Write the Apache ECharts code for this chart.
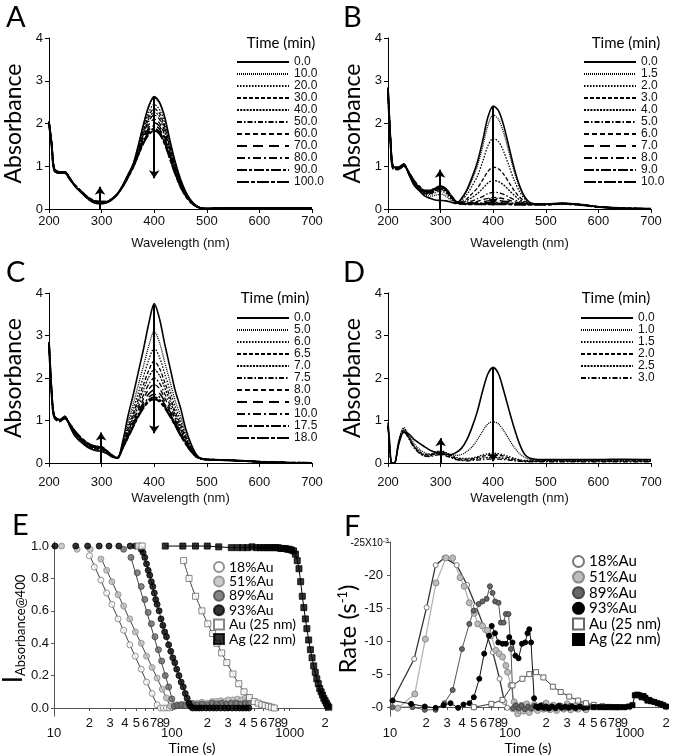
<!DOCTYPE html>
<html><head><meta charset="utf-8">
<script src="https://cdn.jsdelivr.net/npm/echarts@6/dist/echarts.min.js"></script>
<style>html,body{margin:0;padding:0;background:#fff}#c{width:673px;height:756px}</style>
</head><body><div id="c"></div>
<script>
// ---------- Panel A ----------
const wlA = [200,205,210,220,230,240,250,260,270,280,290,300,310,320,330,340,350,360,370,380,390,400,410,420,430,440,450,460,470,480,490,500,550,600,650,700];
const timesA = ['0.0','10.0','20.0','30.0','40.0','50.0','60.0','70.0','80.0','90.0','100.0'];
const A00 = [2.05,1.55,0.95,0.87,0.87,0.72,0.52,0.4,0.28,0.18,0.13,0.12,0.15,0.22,0.35,0.55,0.8,1.05,1.5,2.0,2.42,2.63,2.5,2.15,1.6,1.1,0.7,0.4,0.2,0.08,0.02,0.01,0.02,0.02,0.02,0.02];
const A10 = [2.05,1.55,0.95,0.87,0.87,0.72,0.52,0.4,0.28,0.18,0.13,0.13,0.15,0.22,0.35,0.55,0.80,1.05,1.49,1.98,2.39,2.60,2.47,2.12,1.58,1.09,0.69,0.40,0.20,0.08,0.02,0.01,0.02,0.02,0.02,0.02];
const A20 = [2.04,1.54,0.94,0.86,0.87,0.72,0.53,0.4,0.28,0.19,0.14,0.13,0.15,0.22,0.35,0.54,0.79,1.03,1.45,1.90,2.27,2.45,2.33,2.01,1.50,1.04,0.66,0.38,0.19,0.08,0.02,0.01,0.02,0.02,0.02,0.02];
const A30 = [2.04,1.54,0.94,0.86,0.86,0.71,0.53,0.41,0.29,0.19,0.14,0.14,0.16,0.23,0.35,0.54,0.78,1.03,1.42,1.84,2.19,2.35,2.24,1.93,1.45,1.00,0.64,0.37,0.18,0.07,0.02,0.01,0.02,0.02,0.02,0.02];
const A40 = [2.03,1.53,0.93,0.86,0.86,0.71,0.53,0.41,0.29,0.2,0.15,0.14,0.16,0.23,0.35,0.54,0.77,1.02,1.40,1.80,2.12,2.27,2.17,1.87,1.41,0.97,0.62,0.36,0.18,0.07,0.02,0.01,0.02,0.02,0.02,0.02];
const A50 = [2.03,1.53,0.93,0.85,0.86,0.7,0.53,0.41,0.29,0.2,0.15,0.15,0.16,0.23,0.35,0.53,0.77,1.01,1.38,1.76,2.06,2.20,2.10,1.81,1.37,0.95,0.60,0.35,0.17,0.07,0.02,0.01,0.02,0.02,0.02,0.02];
const A60 = [2.02,1.52,0.92,0.85,0.85,0.7,0.54,0.42,0.3,0.21,0.16,0.15,0.16,0.23,0.35,0.53,0.76,1.00,1.35,1.70,1.98,2.10,2.01,1.73,1.32,0.92,0.58,0.33,0.17,0.07,0.02,0.01,0.02,0.02,0.02,0.02];
const A70 = [2.02,1.52,0.92,0.85,0.85,0.7,0.54,0.42,0.3,0.21,0.16,0.16,0.17,0.24,0.35,0.53,0.75,1.00,1.33,1.66,1.91,2.02,1.94,1.67,1.27,0.89,0.56,0.32,0.16,0.06,0.02,0.01,0.02,0.02,0.02,0.02];
const A80 = [2.01,1.51,0.91,0.84,0.85,0.69,0.54,0.42,0.3,0.22,0.17,0.16,0.17,0.24,0.35,0.52,0.75,0.99,1.30,1.62,1.85,1.95,1.87,1.61,1.23,0.86,0.55,0.32,0.16,0.06,0.02,0.01,0.02,0.02,0.02,0.02];
const A90 = [2.01,1.51,0.91,0.84,0.84,0.69,0.54,0.43,0.31,0.22,0.17,0.17,0.17,0.24,0.35,0.52,0.74,0.98,1.28,1.58,1.79,1.88,1.80,1.56,1.20,0.84,0.53,0.31,0.15,0.06,0.02,0.01,0.02,0.02,0.02,0.02];
const A100 = [2.0,1.5,0.9,0.84,0.84,0.69,0.55,0.43,0.31,0.23,0.18,0.17,0.17,0.24,0.35,0.52,0.74,0.98,1.27,1.55,1.75,1.83,1.76,1.52,1.17,0.82,0.52,0.30,0.15,0.06,0.02,0.01,0.02,0.02,0.02,0.02];
const arrowsA = [[297,0,297,0.52],[400,2.62,400,0.72]];

// ---------- Panel B ----------
const wlB = [200,205,210,220,230,240,250,260,270,280,290,300,310,320,330,340,350,360,370,380,390,400,410,420,430,440,450,460,470,480,490,500,530,560,600,650,700];
const timesB = ['0.0','1.5','2.0','3.0','4.0','5.0','6.0','7.0','8.0','9.0','10.0'];
const B00 = [2.85,1.6,1.0,0.98,1.06,0.8,0.55,0.42,0.3,0.25,0.21,0.2,0.19,0.16,0.13,0.25,0.45,0.75,1.1,1.6,2.15,2.41,2.3,1.95,1.45,0.95,0.55,0.28,0.15,0.12,0.11,0.11,0.13,0.11,0.05,0.015,0.005];
const B15 = [2.83,1.58,0.99,0.97,1.05,0.8,0.56,0.43,0.33,0.3,0.32,0.35,0.3,0.2,0.14,0.24,0.42,0.69,1.01,1.46,1.96,2.20,2.10,1.78,1.33,0.87,0.51,0.27,0.15,0.12,0.12,0.11,0.13,0.11,0.05,0.015,0.005];
const B20 = [2.82,1.57,0.98,0.97,1.05,0.81,0.57,0.44,0.35,0.34,0.38,0.42,0.36,0.23,0.15,0.21,0.34,0.54,0.77,1.11,1.48,1.65,1.58,1.34,1.01,0.67,0.41,0.23,0.14,0.12,0.12,0.11,0.13,0.11,0.05,0.015,0.005];
const B30 = [2.8,1.56,0.98,0.96,1.04,0.81,0.58,0.45,0.36,0.36,0.42,0.46,0.4,0.26,0.16,0.17,0.24,0.36,0.49,0.68,0.88,0.98,0.94,0.81,0.62,0.43,0.28,0.18,0.13,0.12,0.11,0.11,0.13,0.11,0.05,0.015,0.005];
const B40 = [2.8,1.55,0.97,0.96,1.04,0.82,0.59,0.46,0.37,0.37,0.44,0.48,0.42,0.27,0.16,0.15,0.2,0.27,0.36,0.48,0.61,0.67,0.64,0.56,0.44,0.32,0.22,0.16,0.13,0.12,0.11,0.11,0.13,0.11,0.05,0.015,0.005];
const B50 = [2.79,1.55,0.97,0.95,1.03,0.82,0.6,0.47,0.38,0.38,0.45,0.5,0.44,0.28,0.16,0.14,0.16,0.19,0.24,0.29,0.36,0.39,0.38,0.34,0.28,0.22,0.17,0.14,0.12,0.12,0.11,0.11,0.13,0.11,0.05,0.015,0.005];
const B60 = [2.78,1.54,0.96,0.95,1.03,0.83,0.61,0.48,0.39,0.39,0.46,0.51,0.45,0.29,0.16,0.13,0.14,0.16,0.18,0.22,0.25,0.27,0.26,0.24,0.21,0.17,0.15,0.13,0.12,0.11,0.11,0.11,0.13,0.11,0.05,0.015,0.005];
const B70 = [2.78,1.54,0.96,0.94,1.02,0.83,0.62,0.49,0.4,0.4,0.47,0.52,0.46,0.3,0.16,0.12,0.13,0.14,0.15,0.17,0.19,0.2,0.2,0.18,0.17,0.15,0.13,0.12,0.12,0.11,0.11,0.11,0.13,0.11,0.05,0.015,0.005];
const B80 = [2.77,1.53,0.95,0.94,1.02,0.84,0.63,0.5,0.41,0.41,0.48,0.52,0.46,0.3,0.16,0.12,0.12,0.13,0.13,0.14,0.15,0.15,0.15,0.14,0.14,0.13,0.12,0.12,0.11,0.11,0.11,0.11,0.13,0.11,0.05,0.015,0.005];
const B90 = [2.76,1.53,0.95,0.93,1.01,0.84,0.64,0.51,0.42,0.42,0.48,0.53,0.47,0.31,0.16,0.13,0.12,0.12,0.12,0.12,0.13,0.13,0.13,0.12,0.12,0.12,0.12,0.11,0.11,0.11,0.11,0.11,0.13,0.11,0.05,0.015,0.005];
const B100 = [2.75,1.52,0.94,0.93,1.01,0.85,0.65,0.52,0.43,0.43,0.49,0.53,0.47,0.31,0.16,0.12,0.11,0.11,0.11,0.11,0.11,0.11,0.11,0.11,0.11,0.1,0.1,0.1,0.1,0.1,0.1,0.1,0.12,0.1,0.05,0.015,0.005];
const arrowsB = [[299,0,299,0.92],[400,2.41,400,0.08]];

// ---------- Panel C ----------
const wlC = [200,205,210,220,230,240,250,260,270,280,290,300,310,320,330,340,350,360,370,380,390,400,410,420,430,440,450,460,470,480,490,500,550,600,650,700];
const timesC = ['0.0','5.0','6.0','6.5','7.0','7.5','8.0','9.0','10.0','17.5','18.0'];
const C00 = [2.85,1.7,1.12,1.02,1.1,0.85,0.62,0.5,0.4,0.33,0.29,0.27,0.22,0.14,0.12,0.5,1.1,1.6,2.15,2.7,3.3,3.75,3.4,2.8,2.25,1.7,1.3,0.8,0.45,0.2,0.1,0.09,0.06,0.03,0.01,0.0];
const C50 = [2.84,1.69,1.12,1.02,1.1,0.86,0.64,0.52,0.42,0.35,0.31,0.29,0.23,0.15,0.12,0.46,0.96,1.38,1.85,2.30,2.77,3.10,2.84,2.37,1.92,1.46,1.11,0.70,0.40,0.19,0.10,0.09,0.06,0.03,0.01,0.0];
const C60 = [2.84,1.69,1.11,1.01,1.09,0.87,0.66,0.53,0.43,0.36,0.32,0.31,0.24,0.15,0.12,0.43,0.87,1.25,1.66,2.05,2.44,2.70,2.49,2.10,1.71,1.32,1.00,0.64,0.37,0.18,0.10,0.09,0.06,0.03,0.01,0.0];
const C65 = [2.83,1.68,1.11,1.01,1.09,0.88,0.67,0.54,0.44,0.37,0.33,0.32,0.25,0.16,0.12,0.41,0.80,1.15,1.52,1.86,2.19,2.40,2.23,1.90,1.56,1.21,0.91,0.59,0.35,0.17,0.10,0.08,0.06,0.03,0.01,0.0];
const C70 = [2.83,1.68,1.1,1.0,1.08,0.88,0.68,0.55,0.45,0.38,0.34,0.33,0.25,0.16,0.12,0.40,0.76,1.08,1.43,1.74,2.03,2.20,2.06,1.77,1.46,1.14,0.85,0.56,0.33,0.17,0.10,0.08,0.06,0.03,0.01,0.0];
const C75 = [2.82,1.67,1.1,1.0,1.08,0.89,0.69,0.56,0.46,0.39,0.35,0.34,0.26,0.17,0.12,0.38,0.71,1.02,1.33,1.61,1.86,2.00,1.88,1.63,1.36,1.06,0.79,0.53,0.32,0.16,0.10,0.08,0.06,0.03,0.01,0.0];
const C80 = [2.82,1.67,1.09,1.0,1.07,0.89,0.7,0.57,0.47,0.4,0.36,0.35,0.26,0.17,0.12,0.37,0.68,0.97,1.26,1.52,1.74,1.85,1.75,1.53,1.28,1.01,0.75,0.50,0.31,0.16,0.10,0.08,0.06,0.03,0.01,0.0];
const C90 = [2.81,1.66,1.09,0.99,1.07,0.9,0.71,0.58,0.48,0.41,0.37,0.36,0.27,0.17,0.12,0.36,0.65,0.92,1.20,1.44,1.63,1.72,1.64,1.45,1.21,0.96,0.71,0.48,0.30,0.15,0.10,0.08,0.06,0.03,0.01,0.0];
const C100 = [2.81,1.66,1.08,0.99,1.06,0.9,0.72,0.59,0.48,0.41,0.38,0.37,0.27,0.18,0.12,0.36,0.63,0.89,1.16,1.37,1.55,1.62,1.55,1.38,1.16,0.92,0.68,0.47,0.29,0.15,0.10,0.08,0.06,0.03,0.01,0.0];
const C175 = [2.8,1.65,1.08,0.98,1.06,0.91,0.73,0.6,0.49,0.42,0.38,0.37,0.28,0.18,0.12,0.35,0.61,0.87,1.12,1.33,1.49,1.55,1.49,1.33,1.13,0.90,0.66,0.46,0.28,0.15,0.10,0.08,0.06,0.03,0.01,0.0];
const C180 = [2.8,1.65,1.07,0.98,1.05,0.91,0.74,0.6,0.5,0.42,0.39,0.38,0.28,0.18,0.12,0.35,0.6,0.85,1.1,1.3,1.45,1.5,1.45,1.3,1.1,0.88,0.65,0.45,0.28,0.15,0.1,0.08,0.06,0.03,0.01,0.0];
const arrowsC = [[299,0,299,0.72],[400,3.72,400,0.7]];

// ---------- Panel D ----------
const wlD = [200,203,206,210,214,220,230,240,250,260,270,280,290,300,310,320,330,340,350,360,370,380,390,400,410,420,430,440,450,460,470,480,490,500,550,600,650,700];
const timesD = ['0.0','1.0','1.5','2.0','2.5','3.0'];
const D00 = [0.95,0.5,0.03,0.0,0.03,0.42,0.72,0.68,0.55,0.46,0.38,0.3,0.25,0.22,0.2,0.2,0.25,0.35,0.55,0.85,1.22,1.7,2.1,2.25,2.1,1.7,1.25,0.82,0.45,0.2,0.11,0.09,0.08,0.08,0.08,0.08,0.09,0.08];
const D10 = [0.9,0.45,0.02,0.0,0.03,0.5,0.83,0.66,0.45,0.32,0.24,0.21,0.22,0.24,0.22,0.19,0.18,0.2,0.27,0.38,0.55,0.75,0.92,0.97,0.92,0.76,0.56,0.37,0.22,0.13,0.09,0.08,0.08,0.08,0.08,0.08,0.08,0.08];
const D15 = [0.88,0.42,0.02,0.0,0.03,0.48,0.81,0.62,0.4,0.28,0.2,0.2,0.26,0.29,0.25,0.18,0.13,0.11,0.11,0.12,0.15,0.19,0.22,0.23,0.22,0.19,0.15,0.11,0.08,0.06,0.06,0.06,0.06,0.06,0.06,0.06,0.06,0.06];
const D20 = [0.88,0.4,0.02,0.0,0.03,0.46,0.78,0.6,0.38,0.26,0.19,0.19,0.24,0.27,0.23,0.16,0.11,0.09,0.09,0.1,0.13,0.16,0.18,0.19,0.18,0.16,0.12,0.09,0.07,0.05,0.05,0.05,0.05,0.05,0.05,0.05,0.05,0.05];
const D25 = [0.86,0.4,0.02,0.0,0.03,0.45,0.76,0.58,0.36,0.24,0.17,0.17,0.21,0.24,0.2,0.14,0.09,0.07,0.07,0.08,0.1,0.12,0.13,0.13,0.13,0.11,0.09,0.07,0.05,0.04,0.04,0.04,0.04,0.04,0.04,0.04,0.04,0.04];
const D30 = [0.85,0.38,0.02,0.0,0.03,0.44,0.74,0.56,0.35,0.23,0.16,0.15,0.18,0.2,0.17,0.12,0.08,0.06,0.05,0.06,0.07,0.08,0.09,0.09,0.09,0.08,0.07,0.05,0.04,0.03,0.03,0.03,0.03,0.03,0.03,0.03,0.03,0.03];
const arrowsD = [[300,0,300,0.58],[400,2.25,400,0.04]];

// ---------- Panel E (time s, normalized absorbance) ----------
const seriesNames = ['18%Au','51%Au','89%Au','93%Au','Au (25 nm)','Ag (22 nm)'];
const E18 = [[20,0.94],[22,0.87],[25,0.79],[28,0.71],[31,0.64],[35,0.55],[39,0.48],[44,0.39],[49,0.32],[55,0.24],[61,0.16],[68,0.09],[75,0.02],[80,0.0],[85,0.0],[90,0.0],[95,0.0],[100,0.005]];
const E18fit = [[20,0.945],[77,0]];
const E51 = [[11.6,1.0],[15.7,0.98],[20.3,0.98],[25,0.92],[28,0.85],[31,0.78],[35,0.7],[39,0.63],[44,0.55],[49,0.47],[55,0.4],[61,0.32],[68,0.25],[75,0.185],[83,0.116],[90,0.062],[97,0.012],[105,0.015],[110,0.02],[120,0.02],[130,0.025],[140,0.02],[150,0.03],[165,0.03],[180,0.035],[200,0.03],[220,0.04],[240,0.04],[260,0.045],[280,0.04],[300,0.05],[330,0.05],[360,0.055],[390,0.05],[420,0.06],[450,0.06]];
const E51fit = [[24.9,0.93],[98.6,0]];
const E89 = [[39,0.98],[45,0.93],[51,0.835],[55,0.75],[59,0.67],[63,0.59],[67,0.52],[72,0.44],[77,0.36],[82,0.29],[88,0.2],[94,0.13],[100,0.056],[105,0.01],[112,0.015],[120,0.02],[130,0.015],[140,0.02],[150,0.025],[165,0.02],[180,0.025],[200,0.02],[220,0.03],[240,0.025],[265,0.03],[290,0.025],[320,0.03],[350,0.03],[385,0.025],[420,0.03],[450,0.03]];
const E89fit = [[45,0.93],[106,0]];
const E93 = [[10.2,1.0],[15.3,1.0],[19.3,1.0],[24.2,1.0],[29.3,1.0],[35.5,1.0],[44.3,1.0],[49,1.0],[55,0.98],[57,0.96],[59,0.93],[61,0.89],[63,0.85],[65,0.82],[67,0.78],[69,0.75],[71,0.71],[73,0.67],[75,0.64],[78,0.6],[81,0.55],[84,0.51],[87,0.47],[90,0.44],[94,0.39],[98,0.35],[102,0.31],[106,0.28],[110,0.24],[115,0.2],[120,0.16],[125,0.13],[130,0.09],[135,0.06],[140,0.03],[145,0.01],[150,0.0],[160,0.0],[170,0.0],[180,0.0],[195,0.0],[210,0.0],[225,0.0],[240,0.0],[260,0.0],[280,0.0],[300,0.0],[325,0.0],[350,0.0],[375,0.0],[400,0.0],[425,0.0],[450,0.0]];
const EAu = [[52,1.0],[56,1.0],[126,0.91],[140,0.8],[159,0.69],[180,0.6],[202,0.52],[222,0.46],[242,0.4],[265,0.34],[293,0.28],[330,0.21],[370,0.15],[410,0.1],[456,0.065],[500,0.04],[540,0.03],[580,0.02],[620,0.015],[660,0.01],[700,0.005],[740,0.0]];
const EAg = [[88,1.0],[124,1.0],[159,1.0],[200,1.0],[250,0.995],[320,0.99],[360,0.99],[400,0.99],[440,0.99],[480,0.995],[520,0.99],[560,0.99],[600,0.99],[640,0.99],[680,0.99],[720,0.99],[760,0.99],[800,0.99],[840,0.985],[880,0.985],[920,0.985],[960,0.98],[1000,0.98],[1040,0.975],[1080,0.97],[1120,0.95],[1160,0.91],[1200,0.86],[1240,0.78],[1280,0.69],[1320,0.62],[1360,0.55],[1400,0.49],[1450,0.42],[1500,0.36],[1550,0.31],[1600,0.26],[1650,0.22],[1700,0.18],[1750,0.15],[1800,0.12],[1850,0.1],[1900,0.08],[1950,0.06],[2000,0.045],[2050,0.03],[2100,0.015],[2150,0.005]];
const logTicks = [10,20,30,40,50,60,70,80,90,100,200,300,400,500,600,700,800,900,1000,2000];
const eTicks = [0,0.2,0.4,0.6,0.8,1.0];

// ---------- Panel F (rate, x10^-3 s^-1) ----------
const F18 = [[10.5,-1.0],[15.9,-7.3],[20.2,-15.1],[24,-21.5],[28.5,-22.6],[36,-21.5],[44,-18.5],[52,-15.3],[62,-11.7],[72,-8.3],[82,-4.3],[90,-0.8],[95,0.1],[105,0.3],[115,0.5]];
const F51 = [[11.6,0.15],[16.1,-2.0],[19.7,-10.3],[24.2,-18.8],[29.3,-22.6],[33.3,-22.6],[38.4,-19.6],[41.6,-18.3],[45.8,-15.8],[50.4,-14.2],[53.9,-12.6],[59,-12.3],[65,-11.6],[69.6,-10.8],[76.3,-8.6],[81.3,-8.1],[86.7,-7.6],[92.5,-6.3],[95.5,-5.3],[101.8,-3.3],[108.5,-0.8],[116,1.0],[120,0.5],[125,-0.3],[130,0.6],[138,-0.5],[145,0.8],[152,0.2],[160,-0.4],[170,0.5],[180,-0.2],[190,0.3],[200,-0.6],[215,0.4],[230,-0.3],[245,0.5],[260,-0.2],[280,0.3],[300,-0.5],[320,0.4],[345,-0.2],[370,0.3],[400,-0.3],[430,0.4],[450,0.0]];
const F89 = [[10.5,0.0],[15.4,0.0],[19.5,0.4],[24,0.4],[28.4,-0.6],[33.3,-2.6],[39.8,-8.8],[45.8,-12.6],[49.8,-14.6],[54.8,-15.6],[59,-16.0],[63.9,-16.4],[68.1,-18.3],[71.6,-17.3],[75.3,-16.0],[80.3,-15.8],[84,-12.8],[88.6,-12.8],[92.5,-14.1],[97.3,-14.1],[101.9,-8.8],[106.5,0.15],[112,-0.3],[118,0.2],[125,-0.2],[133,0.3],[142,-0.1],[150,0.2],[160,-0.2],[172,0.1],[185,-0.3],[200,0.2],[220,-0.1],[240,0.2],[265,-0.2],[290,0.1],[320,-0.2],[350,0.2],[385,-0.1],[420,0.1],[450,0.0]];
const F93 = [[10.5,-1.0],[15,-0.5],[19.5,-0.1],[24,0.1],[28,-0.3],[32,-0.6],[37,0.1],[41,-0.4],[46,-0.6],[50,-1.5],[55.5,-4.3],[61,-8.1],[67,-10.8],[70.5,-12.3],[75,-11.2],[80,-9.8],[86.7,-9.6],[92.5,-9.6],[98.7,-10.6],[105,-9.8],[111,-7.8],[118,-7.4],[126,-9.6],[134,-9.8],[140,-11.2],[145,-11.8],[150,-9.8],[159,-1.35],[165,-0.1],[172,0.1],[180,-0.2],[190,0.1],[200,-0.1],[212,0.2],[225,-0.1],[240,0.1],[255,-0.2],[270,0.1],[290,-0.1],[310,0.1],[330,-0.1],[355,0.1],[380,-0.1],[410,0.1],[440,0.0]];
const FAu = [[50,0.0],[70,-0.5],[86.7,-1.1],[105,-3.3],[127,-4.3],[145,-5.0],[165,-5.3],[190,-4.5],[228,-3.1],[265,-2.3],[312,-1.6],[370,-1.0],[430,-0.6],[500,-0.35],[590,-0.15],[670,-0.05],[760,0.0]];
const FAg = [[500,0.0],[560,0.0],[620,0.0],[680,0.0],[750,0.0],[820,0.0],[900,0.0],[980,-0.1],[1050,-0.3],[1100,-1.8],[1150,-1.9],[1200,-1.8],[1250,-1.5],[1300,-1.7],[1350,-1.4],[1400,-1.0],[1450,-1.1],[1500,-0.9],[1600,-0.8],[1700,-0.6],[1800,-0.5],[1900,-0.3],[2000,-0.1]];
const fTicks = [-25,-20,-15,-10,-5,0];

// ---------- styles ----------
const dashes = [
  {t:'solid', w:1.6},{t:[1,1], w:1.3},{t:[1.5,1.5], w:1.3},{t:[4,2], w:1.3},{t:[2,1.2], w:1.3},
  {t:[5,2,1.5,2], w:1.3},{t:[5,3], w:1.3},{t:[10,6], w:1.5},{t:[8,3,2,3], w:1.5},{t:[10,2,3,2], w:2},{t:[12,2,4,2], w:2}
];
const TXT = '#111';
const tickFont = 'Liberation Sans';

function specSeries(p, gi, wl, curves, labels, arrows) {
  return curves.map((c, i) => {
    const s = {type:'line', name:p+'|'+labels[i], xAxisIndex:gi, yAxisIndex:gi,
      data: wl.map((w, j) => [w, c[j]]), symbol:'none', smooth:0.3, silent:true,
      lineStyle:{color:'#000', width:dashes[i].w, type:dashes[i].t}};
    if (i === 0) s.markLine = {silent:true, symbol:['none','arrow'], symbolSize:8,
      lineStyle:{color:'#000', width:2, type:'solid'}, label:{show:false},
      data: arrows.map(a => [{coord:[a[0],a[1]]},{coord:[a[2],a[3]]}])};
    return s;
  });
}
function specX(gi, row) {
  return {type:'value', gridIndex:gi, min:200, max:700, interval:100,
    name:'Wavelength (nm)', nameLocation:'middle', nameGap: row ? 29 : 28,
    nameTextStyle:{fontSize:13, fontFamily:tickFont, color:TXT},
    axisLine:{lineStyle:{color:'#000', width:1}}, axisTick:{length:4, lineStyle:{color:'#000'}},
    axisLabel:{fontSize:13, margin: row ? 13 : 6, color:TXT, fontFamily:tickFont}, splitLine:{show:false}};
}
function specY(gi) {
  return {type:'value', gridIndex:gi, min:0, max:4, interval:1,
    name:'Absorbance', nameLocation:'middle', nameGap:24,
    nameTextStyle:{fontSize:23, fontFamily:'Lato', color:'#000'},
    axisLine:{show:true, lineStyle:{color:'#000', width:1}}, axisTick:{show:true, length:4, lineStyle:{color:'#000'}},
    axisLabel:{fontSize:13, margin:6, color:TXT, fontFamily:tickFont}, splitLine:{show:false}};
}
function specLegend(p, left, top, labels) {
  return {left, top, orient:'vertical', padding:0, itemGap:0, itemWidth:52, itemHeight:10,
    selectedMode:false, data: labels.map(l => p+'|'+l), formatter: n => n.slice(2),
    textStyle:{fontSize:12, lineHeight:12, color:TXT, fontFamily:tickFont}, itemStyle:{opacity:0}};
}
function logX(gi, max) {
  return {type:'log', logBase:10, gridIndex:gi, min:10, max:max,
    name:'Time (s)', nameLocation:'middle', nameGap:21,
    nameTextStyle:{fontSize:14, fontFamily:'Lato', color:'#000'},
    axisLine:{lineStyle:{color:'#555', width:1}},
    axisTick:{customValues:logTicks, length:3, lineStyle:{color:'#555'}},
    axisLabel:{customValues:logTicks, margin:1, color:TXT, fontFamily:tickFont, fontSize:13,
      formatter: v => { const r = Math.round(v); return [10,100,1000].includes(r) ? '{d|'+r+'}' : '{m|'+String(r)[0]+'}'; },
      rich:{d:{fontSize:13, fontFamily:tickFont, color:TXT, padding:[10,0,0,0]}, m:{fontSize:13, fontFamily:tickFont, color:TXT}}},
    splitLine:{show:false}};
}

const marker = {
  '18%Au': {symbol:'circle', fill:'#fff', border:'#777'},
  '51%Au': {symbol:'circle', fill:'#bdbdbd', border:'#8a8a8a'},
  '89%Au': {symbol:'circle', fill:'#676767', border:'#444'},
  '93%Au': {symbol:'circle', fill:'#000', border:'#000'},
  'Au (25 nm)': {symbol:'rect', fill:'#fff', border:'#666'},
  'Ag (22 nm)': {symbol:'rect', fill:'#000', border:'#000'}
};
const eData = {'18%Au':E18, '51%Au':E51, '89%Au':E89, '93%Au':E93, 'Au (25 nm)':EAu, 'Ag (22 nm)':EAg};
const fData = {'18%Au':F18, '51%Au':F51, '89%Au':F89, '93%Au':F93, 'Au (25 nm)':FAu, 'Ag (22 nm)':FAg};
const fLine = {'18%Au':['#333',1.3], '51%Au':['#b4b4b4',1.3], '89%Au':['#555',1], '93%Au':['#111',1], 'Au (25 nm)':['#333',1], 'Ag (22 nm)':['#000',1]};

const series = [].concat(
  specSeries('A', 0, wlA, [A00,A10,A20,A30,A40,A50,A60,A70,A80,A90,A100], timesA, arrowsA),
  specSeries('B', 1, wlB, [B00,B15,B20,B30,B40,B50,B60,B70,B80,B90,B100], timesB, arrowsB),
  specSeries('C', 2, wlC, [C00,C50,C60,C65,C70,C75,C80,C90,C100,C175,C180], timesC, arrowsC),
  specSeries('D', 3, wlD, [D00,D10,D15,D20,D25,D30], timesD, arrowsD)
);
// E fit lines
[[E18fit,false],[E51fit,false],[E89fit,false],[E93.slice(7,37),true],[EAu.slice(2,16),true]].forEach(f => {
  series.push({type:'line', xAxisIndex:4, yAxisIndex:4, data:f[0], symbol:'none', smooth:f[1] ? 0.3 : false,
    silent:true, lineStyle:{color:'#444', width:1}, z:1});
});
series.push({type:'line', xAxisIndex:4, yAxisIndex:4, data:EAg, symbol:'none', silent:true, lineStyle:{color:'#000', width:1}, z:1});
seriesNames.forEach(n => {
  const m = marker[n];
  series.push({type:'scatter', name:'E|'+n, xAxisIndex:4, yAxisIndex:4, data:eData[n], symbol:m.symbol, symbolSize:6,
    itemStyle:{color:m.fill, borderColor:m.border, borderWidth:1}, z:3});
});
seriesNames.forEach(n => {
  const m = marker[n];
  series.push({type:'line', name:'F|'+n, xAxisIndex:5, yAxisIndex:5, data:fData[n], symbol:m.symbol,
    symbolSize: n === '51%Au' ? 6 : 5, showSymbol:true,
    itemStyle:{color:m.fill, borderColor:m.border, borderWidth:1},
    lineStyle:{color:fLine[n][0], width:fLine[n][1]}, z:3});
});

const option = {
  animation:false,
  backgroundColor:'#fff',
  grid:[
    {left:49, top:38, width:263, height:171},
    {left:388, top:38, width:263, height:171},
    {left:49, top:293, width:263, height:170},
    {left:388, top:293, width:263, height:170},
    {left:49, top:542, width:281, height:176},
    {left:390, top:542, width:276, height:176}
  ],
  xAxis:[specX(0,0), specX(1,0), specX(2,1), specX(3,1), logX(4,2200), logX(5,2000)],
  yAxis:[specY(0), specY(1), specY(2), specY(3),
    {type:'value', gridIndex:4, min:-0.05, max:1.025,
      name:'{big|I}{sub|Absorbance@400}', nameLocation:'middle', nameGap:24,
      nameTextStyle:{color:'#000', rich:{big:{fontSize:26, fontFamily:'Lato', color:'#000'}, sub:{fontSize:13, fontFamily:'Lato', color:'#000', verticalAlign:'bottom'}}},
      axisLine:{show:true, lineStyle:{color:'#555'}}, axisTick:{show:true, customValues:eTicks, length:3, lineStyle:{color:'#555'}},
      axisLabel:{customValues:eTicks, formatter: v => v.toFixed(1), fontSize:13, margin:5, color:TXT, fontFamily:tickFont},
      splitLine:{show:false}},
    {type:'value', gridIndex:5, min:-25, max:1.35, inverse:true,
      name:'Rate (s{sup|-1})', nameLocation:'middle', nameGap:26,
      nameTextStyle:{fontSize:24, fontFamily:'Lato', color:'#000', rich:{sup:{fontSize:13, fontFamily:'Lato', color:'#000', verticalAlign:'top'}}},
      axisLine:{show:true, lineStyle:{color:'#555'}}, axisTick:{show:true, customValues:fTicks, length:3, lineStyle:{color:'#555'}},
      axisLabel:{customValues:[-20,-15,-10,-5,0], formatter: v => v === 0 ? '-0' : String(v), fontSize:13, margin:7, color:TXT, fontFamily:tickFont},
      splitLine:{show:false}}
  ],
  legend:[
    specLegend('A', 236, 56, timesA),
    specLegend('B', 583, 56, timesB),
    specLegend('C', 236, 312, timesC),
    specLegend('D', 580, 312, timesD),
    {left:213, top:560, orient:'vertical', padding:0, itemGap:0.4, itemWidth:10, itemHeight:10, selectedMode:false,
      data: seriesNames.map(n => ({name:'E|'+n, icon:marker[n].symbol})), formatter: n => n.slice(2),
      textStyle:{fontSize:14, lineHeight:13, color:'#000', fontFamily:'Lato'}},
    {left:572, top:554, orient:'vertical', padding:0, itemGap:0.6, itemWidth:11, itemHeight:11, selectedMode:false,
      data: seriesNames.map(n => ({name:'F|'+n, icon:marker[n].symbol})), formatter: n => n.slice(2),
      textStyle:{fontSize:15, lineHeight:14, color:'#000', fontFamily:'Lato'}}
  ],
  graphic:[
    {type:'text', x:6, y:18, style:{text:'A', font:'29px Lato', fill:'#000', align:'left', verticalAlign:'middle'}},
    {type:'text', x:343, y:18, style:{text:'B', font:'29px Lato', fill:'#000', align:'left', verticalAlign:'middle'}},
    {type:'text', x:6, y:273, style:{text:'C', font:'29px Lato', fill:'#000', align:'left', verticalAlign:'middle'}},
    {type:'text', x:343, y:273, style:{text:'D', font:'29px Lato', fill:'#000', align:'left', verticalAlign:'middle'}},
    {type:'text', x:12, y:526, style:{text:'E', font:'29px Lato', fill:'#000', align:'left', verticalAlign:'middle'}},
    {type:'text', x:344, y:527, style:{text:'F', font:'29px Lato', fill:'#000', align:'left', verticalAlign:'middle'}},
    {type:'text', x:281, y:43, style:{text:'Time (min)', font:'15px Lato', fill:'#000', align:'center', verticalAlign:'middle'}},
    {type:'text', x:626, y:43, style:{text:'Time (min)', font:'15px Lato', fill:'#000', align:'center', verticalAlign:'middle'}},
    {type:'text', x:275, y:298, style:{text:'Time (min)', font:'15px Lato', fill:'#000', align:'center', verticalAlign:'middle'}},
    {type:'text', x:616, y:298, style:{text:'Time (min)', font:'15px Lato', fill:'#000', align:'center', verticalAlign:'middle'}},
    {type:'text', x:389, y:543, style:{text:'{a|-25X10}{b|-3}', align:'right', verticalAlign:'middle', fill:'#000',
      rich:{a:{fontSize:10, fontFamily:tickFont, fill:'#000'}, b:{fontSize:7, fontFamily:tickFont, fill:'#000', verticalAlign:'top'}}}}
  ],
  series
};
const chart = echarts.init(document.getElementById('c'), null, {renderer:'canvas'});
chart.setOption(option);
</script></body></html>
